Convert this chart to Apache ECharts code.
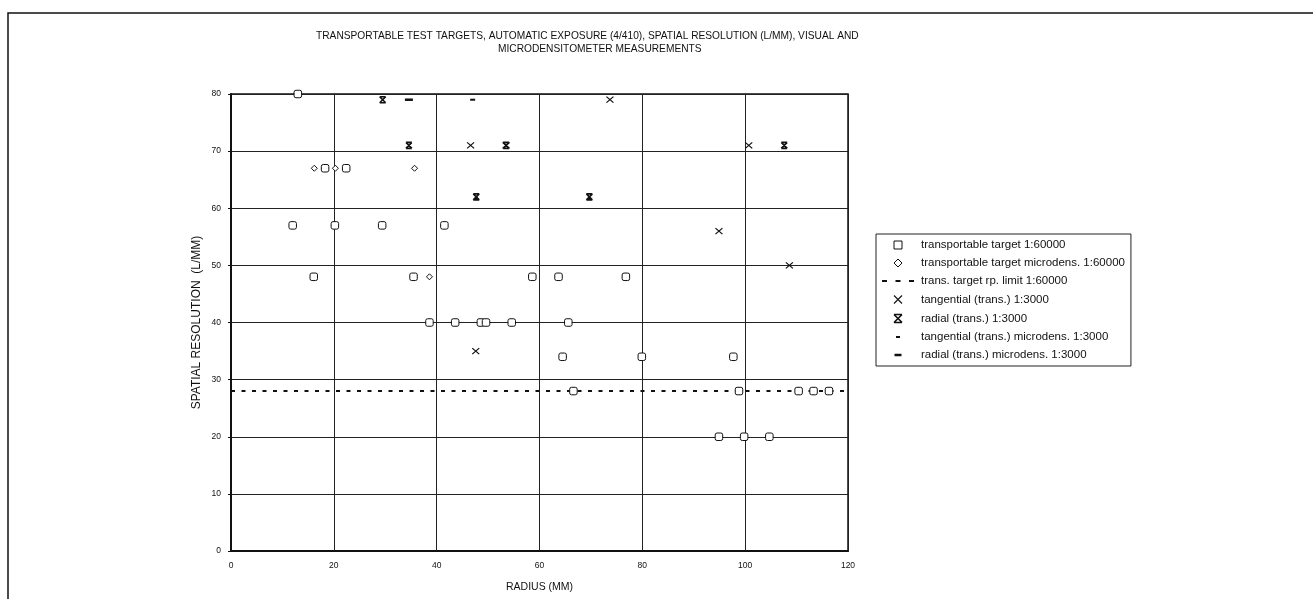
<!DOCTYPE html>
<html>
<head>
<meta charset="utf-8">
<script src="https://cdn.jsdelivr.net/npm/echarts@6/dist/echarts.min.js"></script>
<style>
html,body{margin:0;padding:0;background:#fff;}
#c{width:1313px;height:599px;}
</style>
</head>
<body>
<div id="c"></div>
<script>
// ---- data ----
var titleLines = ['TRANSPORTABLE TEST TARGETS, AUTOMATIC EXPOSURE (4/410), SPATIAL RESOLUTION (L/MM), VISUAL AND', 'MICRODENSITOMETER MEASUREMENTS'];
var xAxisName = 'RADIUS (MM)';
var yAxisName = 'SPATIAL RESOLUTION  (L/MM)';
var seriesNames = [
  'transportable target 1:60000',
  'transportable target microdens. 1:60000',
  'trans. target rp. limit 1:60000',
  'tangential (trans.) 1:3000',
  'radial (trans.) 1:3000',
  'tangential (trans.) microdens. 1:3000',
  'radial (trans.) microdens. 1:3000'
];
var targetSquares = [
  [13,80],[12,57],[20.2,57],[29.4,57],[41.5,57],[18.3,67],[22.4,67],
  [16.1,48],[35.5,48],[58.6,48],[63.7,48],[76.8,48],
  [38.6,40],[43.6,40],[48.6,40],[49.6,40],[54.6,40],[65.6,40],
  [64.5,34],[79.9,34],[97.7,34],
  [66.6,28],[98.8,28],[110.4,28],[113.3,28],[116.3,28],
  [94.9,20],[99.8,20],[104.7,20]
];
var targetMicrodens = [[16.2,67],[20.3,67],[35.7,67],[38.6,48]];
var rpLimit = [[0,28],[120,28]];
var tangential = [[46.6,71],[73.7,79],[100.7,71],[94.9,56],[47.6,35],[108.6,50],[53.5,71]];
var radial = [[29.5,79],[34.6,71],[53.5,71],[47.7,62],[69.7,62],[107.6,71]];
var tangentialMicrodens = [[47,79]];
var radialMicrodens = [[34.6,79]];
var xMin = 0, xMax = 120, xStep = 20;
var yMin = 0, yMax = 80, yStep = 10;

// ---- symbols ----
var SYM_SQUARE = 'path://M0,0h10v10h-10z';
var SYM_DIAMOND = 'path://M5,0L10,5L5,10L0,5z';
var SYM_X = 'path://M0,0L10,10M10,0L0,10';
var SYM_RADIAL = 'path://M0,0L10,0M0,10L10,10M0,0L10,10M10,0L0,10';
var ANCH = ' M0,0h0.01v0.01h-0.01z M35.99,7.99h0.01v0.01h-0.01z';
var SYM_DASHES = 'path://M2,3h5v2h-5z M15.5,3h5v2h-5z M29,3h5v2h-5z' + ANCH;
var SYM_SHORTDASH = 'path://M16,3h4v2h-4z' + ANCH;
var SYM_LONGDASH = 'path://M14.5,2.8h7v2.4h-7z' + ANCH;

var FONT = '"Liberation Sans", Arial, sans-serif';
var chart = echarts.init(document.getElementById('c'), null, {renderer:'canvas'});

var option = {
  backgroundColor: '#fff',
  animation: false,
  textStyle: {fontFamily: FONT, color: '#000'},
  graphic: [
    {type:'rect', shape:{x:8, y:13, width:1330, height:620}, style:{fill:'none', stroke:'#111', lineWidth:1.5}, silent:true},
    {type:'text', top:31, left:316, style:{text: titleLines[0], font:'10.2px ' + FONT, fill:'#111'}},
    {type:'text', top:44, left:498, style:{text: titleLines[1], font:'10.2px ' + FONT, fill:'#111'}}
  ],
  grid: {left:231, right:465, top:94, bottom:48, show:true, borderColor:'#111', borderWidth:1.5, backgroundColor:'transparent'},
  legend: {
    orient:'vertical', left:876, top:234,
    padding:[5,6,5,4], itemWidth:36, itemHeight:8, itemGap:6,
    borderColor:'#222', borderWidth:1, backgroundColor:'#fff',
    textStyle:{fontFamily:FONT, fontSize:11.5, color:'#111'},
    data:[
      {name: seriesNames[0], icon:SYM_SQUARE, itemStyle:{color:'#fff', borderColor:'#111', borderWidth:1}},
      {name: seriesNames[1], icon:SYM_DIAMOND, itemStyle:{color:'#fff', borderColor:'#111', borderWidth:1}},
      {name: seriesNames[2], icon:SYM_DASHES, itemStyle:{color:'#111', borderWidth:0}},
      {name: seriesNames[3], icon:SYM_X, itemStyle:{color:'none', borderColor:'#111', borderWidth:1.1}},
      {name: seriesNames[4], icon:SYM_RADIAL, itemStyle:{color:'none', borderColor:'#111', borderWidth:1.6}},
      {name: seriesNames[5], icon:SYM_SHORTDASH, itemStyle:{color:'#111', borderWidth:0}},
      {name: seriesNames[6], icon:SYM_LONGDASH, itemStyle:{color:'#111', borderWidth:0}}
    ]
  },
  xAxis: {
    type:'value', min:xMin, max:xMax, interval:xStep,
    name: xAxisName, nameLocation:'middle', nameGap:31,
    nameTextStyle:{fontFamily:FONT, fontSize:10.5, color:'#111'},
    axisLine:{show:true, onZero:false, lineStyle:{color:'#111', width:2}},
    axisTick:{show:false},
    axisLabel:{fontFamily:FONT, fontSize:8.5, color:'#111', margin:10},
    splitLine:{show:true, lineStyle:{color:'#222', width:1}}
  },
  yAxis: {
    type:'value', min:yMin, max:yMax, interval:yStep,
    name: yAxisName, nameLocation:'middle', nameGap:28, nameRotate:90,
    nameTextStyle:{fontFamily:FONT, fontSize:12, color:'#111'},
    axisLine:{show:true, onZero:false, lineStyle:{color:'#111', width:2}},
    axisTick:{show:true, length:3, lineStyle:{color:'#111'}},
    axisLabel:{fontFamily:FONT, fontSize:8.5, color:'#111', margin:10},
    splitLine:{show:true, lineStyle:{color:'#222', width:1}}
  },
  series: [
    {name: seriesNames[0], type:'scatter', data: targetSquares, symbol:'roundRect', symbolSize:7.5, clip:false, z:5,
     itemStyle:{color:'#fff', borderColor:'#111', borderWidth:1, opacity:1}},
    {name: seriesNames[1], type:'scatter', data: targetMicrodens, symbol:'diamond', symbolSize:[6,6], clip:false, z:5,
     itemStyle:{color:'#fff', borderColor:'#111', borderWidth:1, opacity:1}},
    {name: seriesNames[2], type:'line', data: rpLimit, showSymbol:false, symbol:'none', z:4,
     lineStyle:{color:'#111', width:2, type:[4,6.5]}},
    {name: seriesNames[3], type:'scatter', data: tangential, symbol:SYM_X, symbolSize:[7,6], clip:false, z:6,
     itemStyle:{color:'none', borderColor:'#111', borderWidth:1.1, opacity:1}},
    {name: seriesNames[4], type:'scatter', data: radial, symbol:SYM_RADIAL, symbolSize:[6,6], clip:false, z:6,
     itemStyle:{color:'none', borderColor:'#111', borderWidth:1.6, opacity:1}},
    {name: seriesNames[5], type:'scatter', data: tangentialMicrodens, symbol:'rect', symbolSize:[5,2], clip:false, z:6,
     itemStyle:{color:'#111', opacity:1}},
    {name: seriesNames[6], type:'scatter', data: radialMicrodens, symbol:'rect', symbolSize:[8,2.5], clip:false, z:6,
     itemStyle:{color:'#111', opacity:1}}
  ]
};
chart.setOption(option);
</script>
</body>
</html>
